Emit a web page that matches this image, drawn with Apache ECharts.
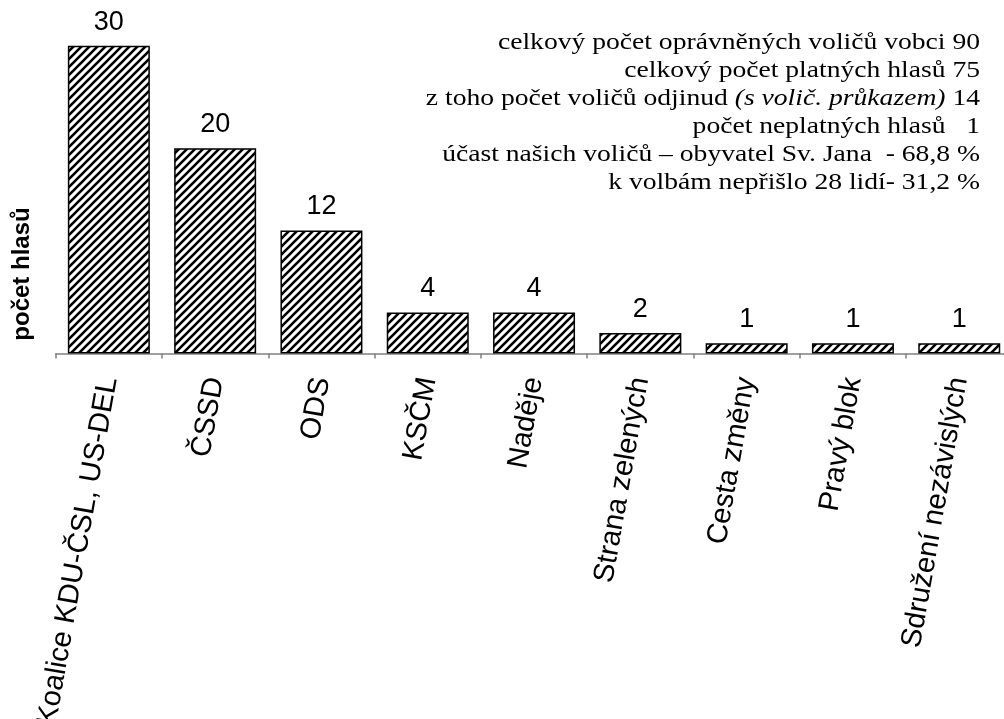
<!DOCTYPE html>
<html>
<head>
<meta charset="utf-8">
<script src="https://cdn.jsdelivr.net/npm/echarts@6/dist/echarts.min.js"></script>
<style>
html,body{margin:0;padding:0;background:#fff;}
#chart{width:1004px;height:719px;}
</style>
</head>
<body>
<div id="chart"></div>
<script>
const categories = ['Koalice KDU-ČSL, US-DEL','ČSSD','ODS','KSČM','Naděje','Strana zelených','Cesta změny','Pravý blok','Sdružení nezávislých'];
const votes = [30, 20, 12, 4, 4, 2, 1, 1, 1];
const yAxisTitle = 'počet hlasů';
const infoLines = [
  'celkový počet oprávněných voličů vobci 90',
  'celkový počet platných hlasů 75',
  'z toho počet voličů odjinud {i|(s volič. průkazem)} 14',
  'počet neplatných hlasů   1',
  'účast našich voličů – obyvatel Sv. Jana  - 68,8 %',
  'k volbám nepřišlo 28 lidí- 31,2 %'
];

function hatch() {
  const c = document.createElement('canvas');
  c.width = 8; c.height = 8;
  const ctx = c.getContext('2d');
  ctx.fillStyle = '#fff';
  ctx.fillRect(0, 0, 8, 8);
  ctx.strokeStyle = '#000';
  ctx.lineWidth = 2.6;
  ctx.beginPath();
  ctx.moveTo(-2, 10); ctx.lineTo(10, -2);
  ctx.moveTo(-2, 2); ctx.lineTo(2, -2);
  ctx.moveTo(6, 10); ctx.lineTo(10, 6);
  ctx.stroke();
  return c;
}

const chart = echarts.init(document.getElementById('chart'), null, {renderer: 'canvas'});
const infoGraphics = infoLines.map((t, i) => ({
  type: 'text',
  x: 980,
  y: 43 + i * 28,
  scaleX: 1.15,
  style: {
    text: t,
    align: 'right',
    verticalAlign: 'middle',
    font: '24px "Liberation Serif", "Times New Roman", serif',
    fill: '#000',
    rich: {
      i: { fontStyle: 'italic', fontFamily: '"Liberation Serif", serif', fontSize: 24, fill: '#000' }
    }
  }
}));

chart.setOption({
  animation: false,
  backgroundColor: '#fff',
  grid: { left: 55.7, right: -8.4, top: 45.7, bottom: 365.5, containLabel: false, outerBoundsMode: 'none' },
  xAxis: {
    type: 'category',
    data: categories,
    axisLine: { lineStyle: { color: '#808080', width: 1.5 } },
    axisTick: { show: true, length: 5, lineStyle: { color: '#808080', width: 1.5 } },
    axisLabel: {
      rotate: 80,
      interval: 0,
      margin: 24,
      color: '#000',
      fontFamily: '"Liberation Sans", Arial, sans-serif',
      fontSize: 29
    }
  },
  yAxis: {
    type: 'value',
    min: 0,
    max: 30,
    show: false,
    splitLine: { show: false }
  },
  series: [{
    type: 'bar',
    data: votes,
    barWidth: 82,
    itemStyle: {
      color: { image: hatch(), repeat: 'repeat' },
      borderColor: '#000',
      borderWidth: 1.5
    },
    label: {
      show: true,
      position: 'top',
      distance: 10,
      color: '#000',
      fontFamily: '"Liberation Sans", Arial, sans-serif',
      fontSize: 27
    }
  }],
  graphic: [
    {
      type: 'text',
      x: 22,
      y: 274,
      rotation: Math.PI / 2,
      style: {
        text: yAxisTitle,
        align: 'center',
        verticalAlign: 'middle',
        font: 'bold 24px "Liberation Sans", Arial, sans-serif',
        fill: '#000'
      }
    }
  ].concat(infoGraphics)
});
</script>
</body>
</html>
